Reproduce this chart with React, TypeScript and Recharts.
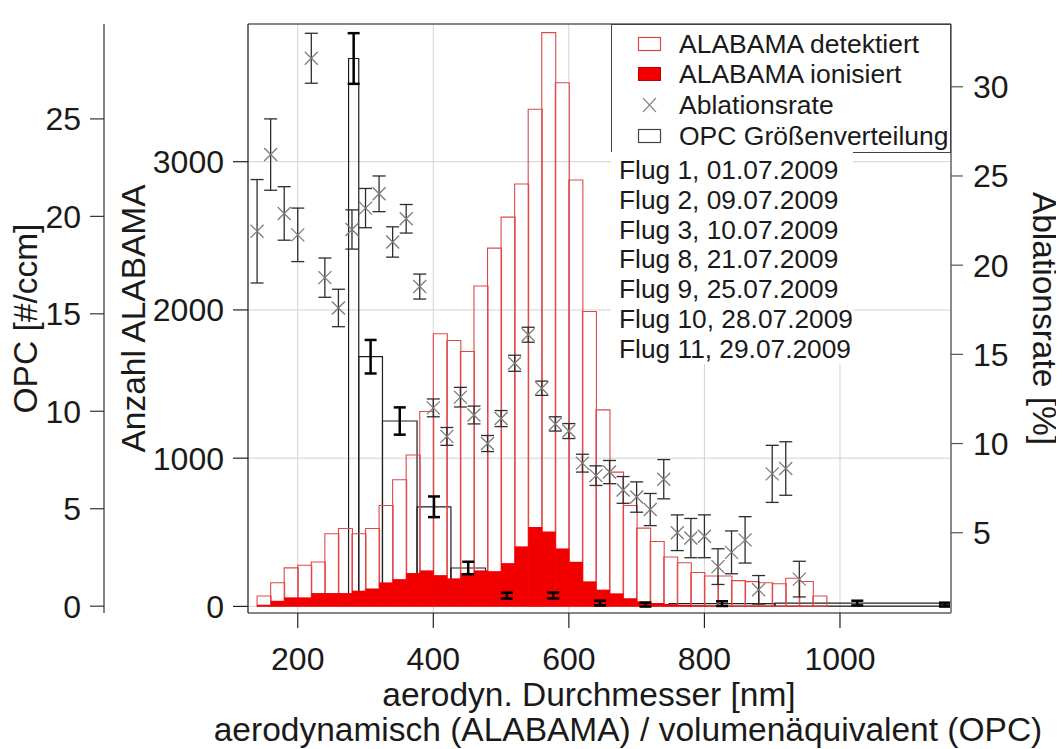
import {
  Bar,
  CartesianGrid,
  ComposedChart,
  ErrorBar,
  ReferenceArea,
  Scatter,
  XAxis,
  YAxis
} from "recharts";

const FONT = '"Liberation Sans", Arial, Helvetica, sans-serif';
const INK = "#1a1a1a";

// ALABAMA counts in 20 nm bins (bin centres)
const binCenters = [
  150, 170, 190, 210, 230, 250, 270, 290, 310, 330, 350, 370, 390, 410, 430, 450, 470, 490, 510, 530, 550,
  570, 590, 610, 630, 650, 670, 690, 710, 730, 750, 770, 790, 810, 830, 850, 870, 890, 910, 930, 950, 970
];
const detected = [
  70, 160, 260, 278, 300, 490, 526, 490, 526, 681, 854, 1021, 1315, 1839, 1794, 1720, 2162, 2417, 2626, 2850, 3354,
  3871, 3533, 2877, 1989, 1326, 906, 681, 528, 438, 333, 295, 229, 205, 205, 174, 167, 160, 153, 190, 168, 70
];
const ionized = [
  11, 38, 61, 61, 90, 90, 90, 106, 121, 162, 184, 225, 243, 211, 189, 225, 243, 238, 292, 405, 535,
  506, 391, 301, 169, 113, 88, 55, 34, 23, 15, 10, 7, 5, 4, 3, 3, 2, 2, 2, 1, 1
];

// ablation rate [%] per bin (lower bin edge) with its uncertainty
const ablationNm = [
  140, 160, 180, 200, 220, 240, 260, 280, 300, 320, 340, 360, 380, 400, 420, 440, 460, 480, 500, 520, 540,
  560, 580, 600, 620, 640, 660, 680, 700, 720, 740, 760, 780, 800, 820, 840, 860, 880, 900, 920, 940
];
const ablationRate = [
  21.9, 26.2, 22.9, 21.7, 31.6, 19.3, 17.6, 22.0, 23.2, 24.0, 21.3, 22.6, 18.8, 12.0, 10.4, 12.6, 11.6, 10.0, 11.4, 14.5, 16.1,
  13.1, 11.1, 10.7, 8.9, 8.2, 8.4, 7.4, 7.0, 6.3, 8.0, 5.0, 4.7, 4.8, 3.1, 3.9, 4.6, 1.8, 8.3, 8.6, 2.4
];
const ablationErr = [
  2.9, 2.0, 1.5, 1.5, 1.4, 1.1, 1.05, 1.1, 1.1, 1.0, 0.85, 0.8, 0.7, 0.5, 0.5, 0.55, 0.5, 0.45, 0.45, 0.45, 0.42,
  0.4, 0.4, 0.42, 0.5, 0.55, 0.65, 0.75, 0.85, 0.9, 1.1, 1.0, 1.1, 1.2, 1.0, 1.2, 1.3, 0.8, 1.6, 1.5, 1.0
];

// OPC size distribution, channel limits in nm
const opcLower = [275, 290, 325, 376, 426, 477, 540, 614, 678, 748, 904, 1147];
const opcUpper = [290, 325, 376, 426, 477, 540, 614, 678, 748, 904, 1147, 1163];
const opcConc = [28.1, 12.8, 9.5, 5.1, 1.96, 0.54, 0.55, 0.16, 0.08, 0.13, 0.16, 0.08];
const opcErr = [1.3, 0.86, 0.7, 0.53, 0.32, 0.15, 0.15, 0.12, 0.1, 0.12, 0.12, 0.1];

const nmTicks = [200, 400, 600, 800, 1000];
const countTicks = [0, 1000, 2000, 3000];
const opcTicks = [0, 5, 10, 15, 20, 25];
const rateTicks = [5, 10, 15, 20, 25, 30];

const flights = [
  "Flug 1, 01.07.2009",
  "Flug 2, 09.07.2009",
  "Flug 3, 10.07.2009",
  "Flug 8, 21.07.2009",
  "Flug 9, 25.07.2009",
  "Flug 10, 28.07.2009",
  "Flug 11, 29.07.2009"
];

const legendItems = [
  { name: "ALABAMA detektiert", kind: "detected" },
  { name: "ALABAMA ionisiert", kind: "ionized" },
  { name: "Ablationsrate", kind: "cross" },
  { name: "OPC Größenverteilung", kind: "opc" }
];

const X_DOMAIN: [number, number] = [126.6, 1163.8];
const RED_LINE = "#e04848";
const RED_FILL = "#f20000";

function Cross(props: any) {
  const { cx, cy } = props;
  if (cx == null || cy == null) return <g />;
  const r = 6.5;
  return (
    <g stroke="#7c7c7c" strokeWidth={1.3}>
      <line x1={cx - r} y1={cy - r} x2={cx + r} y2={cy + r} />
      <line x1={cx - r} y1={cy + r} x2={cx + r} y2={cy - r} />
    </g>
  );
}

// rotated axis title centred on the plot height
const sideTitle = (text: string, dx: number, angle: number) => (props: any) => {
  const vb = props.viewBox || {};
  const x = (vb.x ?? 0) + dx;
  const y = (vb.y ?? 0) + (vb.height ?? 0) / 2;
  return (
    <text
      x={x}
      y={y}
      transform={`rotate(${angle}, ${x}, ${y})`}
      textAnchor="middle"
      dominantBaseline="central"
      fontSize={33.5}
      fontFamily={FONT}
      fill={INK}
    >
      {text}
    </text>
  );
};

const bottomTitle = (props: any) => {
  const vb = props.viewBox || {};
  const top = vb.y ?? 0;
  return (
    <g fontSize={33.5} fontFamily={FONT} fill={INK} textAnchor="middle">
      <text x={581} y={top + 93}>aerodyn. Durchmesser [nm]</text>
      <text x={620} y={top + 128}>aerodynamisch (ALABAMA) / volumenäquivalent (OPC)</text>
    </g>
  );
};

function LegendGlyph({ kind }: { kind: string }) {
  return (
    <svg width={26} height={18} style={{ display: "block" }}>
      {kind === "detected" && <rect x={1.5} y={2.5} width={22} height={13} fill="#fff" stroke={RED_LINE} strokeWidth={1.2} />}
      {kind === "ionized" && <rect x={1.5} y={2.5} width={22} height={13} fill={RED_FILL} stroke="#c00000" strokeWidth={1} />}
      {kind === "opc" && <rect x={1.5} y={2.5} width={22} height={13} fill="#fff" stroke="#444" strokeWidth={1.2} />}
      {kind === "cross" && (
        <g stroke="#8a8a8a" strokeWidth={1.2}>
          <line x1={6} y1={2} x2={19} y2={16} />
          <line x1={6} y1={16} x2={19} y2={2} />
        </g>
      )}
    </svg>
  );
}

export default function App() {
  const bins = binCenters.map((nm, i) => ({ nm, detected: detected[i], ionized: ionized[i] }));
  const ablation = ablationNm.map((nm, i) => ({ nm, rate: ablationRate[i], err: ablationErr[i] }));
  const opc = opcLower.map((lo, i) => ({
    lo,
    hi: opcUpper[i],
    nm: (lo + opcUpper[i]) / 2,
    conc: opcConc[i],
    err: opcErr[i]
  }));

  const tickStyle = { fontSize: 32, fill: INK, fontFamily: FONT };

  return (
    <div style={{ position: "relative", width: 1056, height: 741, fontFamily: FONT, color: INK }}>
      <ComposedChart
        width={1056}
        height={741}
        data={bins}
        margin={{ top: 0, right: 13, bottom: 0, left: 0 }}
        barCategoryGap={0}
        barGap={0}
      >
        <CartesianGrid xAxisId="nm" yAxisId="count" stroke="#d2d2d2" strokeWidth={1} />

        {/* hidden axes so both histograms get their own bar group */}
        <XAxis xAxisId="det" dataKey="nm" type="number" domain={X_DOMAIN} allowDataOverflow hide height={0} />
        <XAxis xAxisId="ion" dataKey="nm" type="number" domain={X_DOMAIN} allowDataOverflow hide height={0} />
        <XAxis
          xAxisId="nm"
          dataKey="nm"
          type="number"
          domain={X_DOMAIN}
          ticks={nmTicks}
          allowDataOverflow
          height={136}
          tickSize={15}
          tickMargin={19}
          tick={tickStyle}
          axisLine={{ stroke: "#222", strokeWidth: 1.2 }}
          tickLine={{ stroke: "#222", strokeWidth: 1.2 }}
          label={{ content: bottomTitle }}
        />
        <XAxis
          xAxisId="top"
          orientation="top"
          type="number"
          domain={X_DOMAIN}
          ticks={nmTicks}
          allowDataOverflow
          height={16}
          tickSize={14}
          tick={false}
          axisLine={{ stroke: "#222", strokeWidth: 1.2 }}
          tickLine={{ stroke: "#222", strokeWidth: 1.2 }}
        />

        <YAxis
          yAxisId="count"
          orientation="left"
          type="number"
          domain={[-44.5, 3929]}
          ticks={countTicks}
          allowDataOverflow
          width={144}
          tickSize={15}
          tickMargin={9}
          tick={tickStyle}
          axisLine={{ stroke: "#222", strokeWidth: 1.2 }}
          tickLine={{ stroke: "#222", strokeWidth: 1.2 }}
          label={{ content: sideTitle("Anzahl ALABAMA", 29.5, -90) }}
        />
        <YAxis
          yAxisId="opc"
          orientation="left"
          type="number"
          domain={[-0.35, 29.87]}
          ticks={opcTicks}
          allowDataOverflow
          width={96}
          tickSize={14}
          tickMargin={9}
          tick={tickStyle}
          axisLine={{ stroke: "#333", strokeWidth: 1.2 }}
          tickLine={{ stroke: "#333", strokeWidth: 1.2 }}
          label={{ content: sideTitle("OPC [#/ccm]", 17, -90) }}
        />
        <YAxis
          yAxisId="rate"
          orientation="right"
          type="number"
          domain={[0.5, 33.52]}
          ticks={rateTicks}
          allowDataOverflow
          width={100}
          tickSize={12}
          tickMargin={10}
          tick={tickStyle}
          axisLine={{ stroke: "#8a8a8a", strokeWidth: 2 }}
          tickLine={{ stroke: "#555", strokeWidth: 1.2 }}
          label={{ content: sideTitle("Ablationsrate [%]", 93, 90) }}
        />

        <Bar
          xAxisId="det"
          yAxisId="count"
          dataKey="detected"
          fill="none"
          stroke={RED_LINE}
          strokeWidth={1.1}
          isAnimationActive={false}
        />
        <Bar
          xAxisId="ion"
          yAxisId="count"
          dataKey="ionized"
          fill={RED_FILL}
          isAnimationActive={false}
        />

        {opc.map((b) => (
          <ReferenceArea
            key={b.lo}
            xAxisId="nm"
            yAxisId="opc"
            x1={b.lo}
            x2={b.hi}
            y1={0}
            y2={b.conc}
            fill="none"
            fillOpacity={0}
            stroke="#1e1e1e"
            strokeWidth={1.2}
            ifOverflow="hidden"
          />
        ))}

        <Scatter
          xAxisId="nm"
          yAxisId="opc"
          data={opc}
          dataKey="conc"
          shape={() => <g />}
          isAnimationActive={false}
        >
          <ErrorBar dataKey="err" direction="y" width={6} stroke="#000" strokeWidth={2.5} />
        </Scatter>

        <Scatter
          xAxisId="nm"
          yAxisId="rate"
          data={ablation}
          dataKey="rate"
          shape={Cross}
          isAnimationActive={false}
        >
          <ErrorBar dataKey="err" direction="y" width={6.5} stroke="#2e2e2e" strokeWidth={1.3} />
        </Scatter>
      </ComposedChart>

      {/* legend box in the upper right corner of the plot */}
      <div
        style={{
          position: "absolute",
          left: 603,
          top: 16,
          width: 340,
          height: 129,
          boxSizing: "border-box",
          border: "1px solid #444",
          background: "#fff"
        }}
      >
        {legendItems.map((item, i) => (
          <div
            key={item.name}
            style={{
              position: "absolute",
              left: 25,
              top: 18.5 + i * 30.9 - 15,
              height: 30,
              display: "flex",
              alignItems: "center",
              whiteSpace: "nowrap"
            }}
          >
            <LegendGlyph kind={item.kind} />
            <span style={{ marginLeft: 16, fontSize: 26.5, lineHeight: "30px" }}>{item.name}</span>
          </div>
        ))}
      </div>

      {/* flight list */}
      <div
        style={{
          position: "absolute",
          left: 603,
          top: 144,
          width: 242,
          height: 212,
          background: "#fff"
        }}
      >
        {flights.map((f, i) => (
          <div
            key={f}
            style={{
              position: "absolute",
              left: 8,
              top: 18 + i * 29.8 - 15,
              fontSize: 26.3,
              lineHeight: "30px",
              whiteSpace: "nowrap"
            }}
          >
            {f}
          </div>
        ))}
      </div>
    </div>
  );
}
